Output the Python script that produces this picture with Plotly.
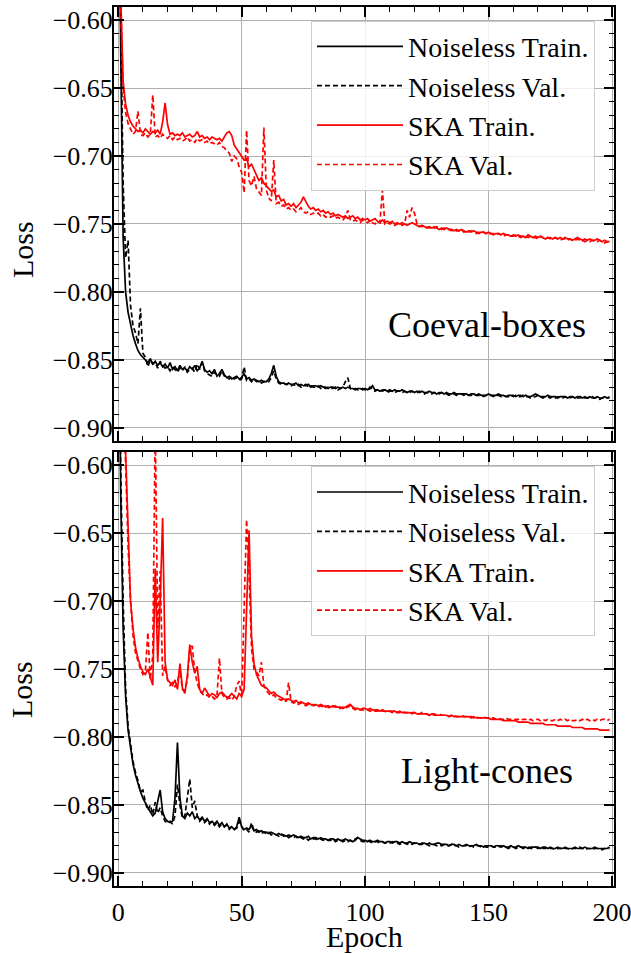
import plotly.graph_objects as go

epochs = list(range(200))

top_noiseless_train = [
    -0.40, -0.62, -0.76, -0.80, -0.815, -0.825, -0.832, -0.838, -0.843, -0.846,
    -0.848, -0.850, -0.852, -0.849, -0.853, -0.851, -0.854, -0.852, -0.855, -0.853,
    -0.856, -0.852, -0.857, -0.855, -0.858, -0.854, -0.857, -0.856, -0.858, -0.855,
    -0.857, -0.854, -0.858, -0.856, -0.851, -0.857, -0.859, -0.858, -0.860, -0.857,
    -0.862, -0.860, -0.857, -0.861, -0.863, -0.862, -0.864, -0.863, -0.862, -0.864,
    -0.863, -0.860, -0.864, -0.863, -0.865, -0.864, -0.865, -0.866, -0.865, -0.866,
    -0.866, -0.864, -0.860, -0.854, -0.862, -0.866, -0.867, -0.867, -0.868, -0.867,
    -0.868, -0.868, -0.867, -0.869, -0.868, -0.869, -0.869, -0.868, -0.870, -0.869,
    -0.869, -0.870, -0.869, -0.870, -0.870, -0.871, -0.870, -0.870, -0.871, -0.870,
    -0.871, -0.870, -0.871, -0.870, -0.871, -0.871, -0.872, -0.871, -0.871, -0.872,
    -0.871, -0.872, -0.871, -0.869, -0.872, -0.872, -0.873, -0.872, -0.872, -0.873,
    -0.872, -0.873, -0.872, -0.873, -0.873, -0.872, -0.873, -0.874, -0.873, -0.873,
    -0.874, -0.873, -0.874, -0.873, -0.874, -0.874, -0.873, -0.874, -0.874, -0.875,
    -0.874, -0.874, -0.875, -0.874, -0.875, -0.875, -0.874, -0.875, -0.875, -0.875,
    -0.875, -0.875, -0.876, -0.875, -0.875, -0.876, -0.875, -0.876, -0.876, -0.876,
    -0.875, -0.876, -0.876, -0.876, -0.875, -0.876, -0.876, -0.877, -0.876, -0.876,
    -0.876, -0.877, -0.876, -0.876, -0.877, -0.876, -0.877, -0.877, -0.876, -0.875,
    -0.876, -0.877, -0.877, -0.877, -0.876, -0.877, -0.877, -0.877, -0.878, -0.877,
    -0.877, -0.877, -0.878, -0.877, -0.877, -0.878, -0.877, -0.877, -0.878, -0.877,
    -0.878, -0.877, -0.878, -0.878, -0.877, -0.878, -0.878, -0.877, -0.878, -0.878,
]

top_noiseless_val = [
    -0.40, -0.60, -0.72, -0.775, -0.762, -0.810, -0.825, -0.830, -0.838, -0.812,
    -0.845, -0.848, -0.855, -0.850, -0.853, -0.852, -0.856, -0.851, -0.854, -0.856,
    -0.855, -0.858, -0.855, -0.857, -0.859, -0.856, -0.858, -0.855, -0.859, -0.857,
    -0.856, -0.859, -0.853, -0.857, -0.852, -0.858, -0.860, -0.861, -0.862, -0.859,
    -0.861, -0.862, -0.858, -0.862, -0.863, -0.864, -0.862, -0.864, -0.863, -0.865,
    -0.864, -0.855, -0.865, -0.864, -0.866, -0.864, -0.866, -0.865, -0.867, -0.866,
    -0.866, -0.866, -0.863, -0.858, -0.864, -0.867, -0.868, -0.867, -0.868, -0.868,
    -0.869, -0.868, -0.869, -0.868, -0.870, -0.869, -0.868, -0.870, -0.869, -0.870,
    -0.870, -0.869, -0.871, -0.870, -0.871, -0.870, -0.871, -0.871, -0.870, -0.872,
    -0.871, -0.870, -0.866, -0.863, -0.871, -0.872, -0.871, -0.872, -0.872, -0.871,
    -0.872, -0.872, -0.870, -0.872, -0.873, -0.872, -0.873, -0.873, -0.872, -0.874,
    -0.873, -0.873, -0.874, -0.873, -0.873, -0.874, -0.873, -0.874, -0.874, -0.873,
    -0.874, -0.874, -0.873, -0.874, -0.875, -0.874, -0.874, -0.875, -0.874, -0.875,
    -0.875, -0.874, -0.875, -0.875, -0.876, -0.875, -0.875, -0.876, -0.875, -0.875,
    -0.876, -0.875, -0.876, -0.876, -0.875, -0.876, -0.876, -0.876, -0.877, -0.876,
    -0.876, -0.876, -0.877, -0.876, -0.876, -0.877, -0.876, -0.877, -0.877, -0.876,
    -0.877, -0.876, -0.877, -0.877, -0.876, -0.877, -0.877, -0.878, -0.877, -0.877,
    -0.876, -0.877, -0.878, -0.877, -0.877, -0.878, -0.877, -0.878, -0.877, -0.878,
    -0.878, -0.877, -0.878, -0.878, -0.877, -0.878, -0.878, -0.878, -0.877, -0.878,
    -0.878, -0.878, -0.877, -0.878, -0.878, -0.879, -0.878, -0.878, -0.878, -0.877,
]

top_ska_train = [
    -0.45, -0.58, -0.645, -0.662, -0.670, -0.675, -0.678, -0.680, -0.682, -0.681,
    -0.683, -0.680, -0.682, -0.684, -0.682, -0.683, -0.681, -0.684, -0.675, -0.661,
    -0.677, -0.684, -0.683, -0.685, -0.684, -0.685, -0.683, -0.686, -0.685, -0.684,
    -0.686, -0.685, -0.682, -0.686, -0.685, -0.687, -0.686, -0.688, -0.686, -0.687,
    -0.688, -0.687, -0.689, -0.686, -0.683, -0.682, -0.685, -0.692, -0.695, -0.698,
    -0.700, -0.703, -0.702, -0.708, -0.706, -0.710, -0.714, -0.718, -0.716, -0.720,
    -0.722, -0.724, -0.726, -0.725, -0.730, -0.729, -0.733, -0.732, -0.736, -0.735,
    -0.737, -0.735, -0.738, -0.736, -0.734, -0.730, -0.734, -0.737, -0.739, -0.738,
    -0.740, -0.739, -0.741, -0.740, -0.742, -0.741, -0.743, -0.742, -0.744, -0.743,
    -0.744, -0.745, -0.744, -0.746, -0.745, -0.744, -0.746, -0.745, -0.747, -0.746,
    -0.747, -0.746, -0.748, -0.747, -0.746, -0.748, -0.749, -0.747, -0.749, -0.748,
    -0.749, -0.748, -0.750, -0.749, -0.750, -0.749, -0.750, -0.751, -0.750, -0.749,
    -0.750, -0.751, -0.752, -0.751, -0.752, -0.753, -0.752, -0.753, -0.752, -0.753,
    -0.754, -0.753, -0.754, -0.753, -0.754, -0.754, -0.755, -0.754, -0.755, -0.754,
    -0.755, -0.756, -0.755, -0.756, -0.755, -0.756, -0.757, -0.756, -0.756, -0.757,
    -0.756, -0.757, -0.758, -0.757, -0.757, -0.758, -0.757, -0.758, -0.758, -0.759,
    -0.758, -0.759, -0.758, -0.759, -0.759, -0.760, -0.758, -0.759, -0.760, -0.759,
    -0.760, -0.759, -0.760, -0.761, -0.760, -0.760, -0.761, -0.760, -0.761, -0.760,
    -0.761, -0.760, -0.761, -0.761, -0.762, -0.761, -0.760, -0.761, -0.762, -0.761,
    -0.762, -0.761, -0.762, -0.762, -0.761, -0.762, -0.763, -0.762, -0.763, -0.763,
]

top_ska_val = [
    -0.45, -0.59, -0.650, -0.668, -0.676, -0.680, -0.684, -0.682, -0.667, -0.684,
    -0.685, -0.683, -0.686, -0.684, -0.655, -0.686, -0.685, -0.687, -0.684, -0.686,
    -0.687, -0.685, -0.688, -0.686, -0.688, -0.687, -0.689, -0.688, -0.686, -0.689,
    -0.688, -0.690, -0.687, -0.689, -0.688, -0.690, -0.689, -0.691, -0.690, -0.691,
    -0.692, -0.690, -0.693, -0.694, -0.696, -0.698, -0.704, -0.700, -0.702, -0.708,
    -0.712, -0.727, -0.681, -0.718, -0.722, -0.715, -0.724, -0.727, -0.729, -0.679,
    -0.725, -0.731, -0.733, -0.703, -0.735, -0.734, -0.737, -0.736, -0.739, -0.738,
    -0.740, -0.739, -0.741, -0.740, -0.738, -0.741, -0.742, -0.741, -0.743, -0.742,
    -0.743, -0.742, -0.744, -0.743, -0.745, -0.744, -0.745, -0.744, -0.746, -0.745,
    -0.746, -0.747, -0.745, -0.740, -0.747, -0.748, -0.747, -0.748, -0.749, -0.747,
    -0.748, -0.749, -0.747, -0.749, -0.750, -0.748, -0.749, -0.725, -0.750, -0.749,
    -0.750, -0.749, -0.751, -0.750, -0.749, -0.751, -0.750, -0.740, -0.745, -0.738,
    -0.742, -0.750, -0.751, -0.752, -0.751, -0.752, -0.753, -0.752, -0.753, -0.752,
    -0.753, -0.754, -0.753, -0.754, -0.754, -0.755, -0.754, -0.755, -0.755, -0.754,
    -0.756, -0.755, -0.756, -0.755, -0.756, -0.757, -0.756, -0.757, -0.756, -0.757,
    -0.758, -0.757, -0.757, -0.758, -0.757, -0.758, -0.759, -0.758, -0.758, -0.759,
    -0.759, -0.758, -0.759, -0.760, -0.759, -0.759, -0.760, -0.759, -0.760, -0.760,
    -0.761, -0.759, -0.760, -0.761, -0.760, -0.761, -0.761, -0.760, -0.761, -0.762,
    -0.761, -0.761, -0.762, -0.761, -0.762, -0.762, -0.761, -0.762, -0.762, -0.763,
    -0.762, -0.763, -0.762, -0.763, -0.763, -0.762, -0.763, -0.764, -0.763, -0.764,
]

bottom_noiseless_train = [
    -0.40, -0.62, -0.72, -0.77, -0.795, -0.808, -0.820, -0.828, -0.835, -0.840,
    -0.845, -0.849, -0.852, -0.855, -0.858, -0.856, -0.848, -0.839, -0.855, -0.860,
    -0.862, -0.863, -0.862, -0.845, -0.804, -0.845, -0.858, -0.860, -0.856, -0.858,
    -0.855, -0.860, -0.858, -0.861, -0.859, -0.862, -0.860, -0.863, -0.862, -0.864,
    -0.862, -0.865, -0.863, -0.866, -0.864, -0.867, -0.866, -0.868, -0.866, -0.859,
    -0.866, -0.868, -0.867, -0.868, -0.865, -0.869, -0.868, -0.870, -0.869, -0.870,
    -0.870, -0.871, -0.870, -0.871, -0.872, -0.871, -0.872, -0.872, -0.873, -0.872,
    -0.873, -0.872, -0.873, -0.874, -0.873, -0.874, -0.874, -0.873, -0.875, -0.874,
    -0.874, -0.875, -0.874, -0.875, -0.875, -0.876, -0.875, -0.875, -0.876, -0.875,
    -0.876, -0.876, -0.875, -0.876, -0.876, -0.877, -0.876, -0.874, -0.875, -0.876,
    -0.876, -0.877, -0.876, -0.877, -0.877, -0.876, -0.877, -0.877, -0.878, -0.877,
    -0.877, -0.878, -0.877, -0.877, -0.878, -0.877, -0.878, -0.878, -0.877, -0.878,
    -0.878, -0.878, -0.879, -0.878, -0.878, -0.879, -0.878, -0.879, -0.879, -0.878,
    -0.878, -0.879, -0.879, -0.879, -0.880, -0.879, -0.879, -0.880, -0.879, -0.880,
    -0.880, -0.879, -0.880, -0.880, -0.880, -0.879, -0.880, -0.880, -0.881, -0.880,
    -0.880, -0.880, -0.881, -0.880, -0.880, -0.881, -0.880, -0.881, -0.881, -0.880,
    -0.881, -0.881, -0.880, -0.881, -0.881, -0.881, -0.882, -0.881, -0.881, -0.881,
    -0.881, -0.882, -0.881, -0.881, -0.882, -0.881, -0.882, -0.882, -0.881, -0.882,
    -0.882, -0.881, -0.882, -0.882, -0.882, -0.881, -0.882, -0.882, -0.882, -0.881,
    -0.882, -0.882, -0.882, -0.881, -0.882, -0.882, -0.882, -0.882, -0.882, -0.881,
]

bottom_noiseless_val = [
    -0.40, -0.60, -0.70, -0.765, -0.792, -0.806, -0.818, -0.826, -0.832, -0.840,
    -0.839, -0.848, -0.854, -0.850, -0.857, -0.848, -0.856, -0.852, -0.858, -0.862,
    -0.863, -0.862, -0.864, -0.858, -0.835, -0.850, -0.860, -0.858, -0.845, -0.831,
    -0.852, -0.847, -0.858, -0.862, -0.860, -0.863, -0.861, -0.864, -0.862, -0.865,
    -0.863, -0.866, -0.864, -0.866, -0.865, -0.868, -0.866, -0.868, -0.867, -0.862,
    -0.866, -0.869, -0.868, -0.870, -0.863, -0.869, -0.870, -0.869, -0.871, -0.870,
    -0.871, -0.870, -0.872, -0.871, -0.872, -0.873, -0.871, -0.873, -0.872, -0.874,
    -0.873, -0.874, -0.873, -0.875, -0.874, -0.875, -0.874, -0.876, -0.874, -0.875,
    -0.875, -0.876, -0.875, -0.876, -0.875, -0.876, -0.876, -0.875, -0.877, -0.876,
    -0.876, -0.877, -0.876, -0.877, -0.876, -0.877, -0.875, -0.874, -0.876, -0.877,
    -0.877, -0.876, -0.877, -0.878, -0.877, -0.877, -0.878, -0.877, -0.878, -0.878,
    -0.878, -0.877, -0.878, -0.878, -0.879, -0.878, -0.878, -0.879, -0.878, -0.879,
    -0.878, -0.879, -0.879, -0.879, -0.878, -0.879, -0.880, -0.879, -0.879, -0.880,
    -0.879, -0.880, -0.879, -0.880, -0.880, -0.879, -0.880, -0.880, -0.881, -0.880,
    -0.880, -0.880, -0.881, -0.880, -0.881, -0.880, -0.880, -0.881, -0.880, -0.881,
    -0.881, -0.880, -0.881, -0.881, -0.881, -0.880, -0.881, -0.881, -0.882, -0.881,
    -0.881, -0.882, -0.881, -0.881, -0.882, -0.881, -0.881, -0.882, -0.882, -0.881,
    -0.882, -0.881, -0.882, -0.882, -0.881, -0.882, -0.882, -0.883, -0.882, -0.882,
    -0.881, -0.882, -0.882, -0.883, -0.882, -0.882, -0.882, -0.881, -0.882, -0.883,
    -0.882, -0.882, -0.883, -0.882, -0.882, -0.882, -0.883, -0.882, -0.882, -0.882,
]

bottom_ska_train = [
    -0.40, -0.50, -0.56, -0.59, -0.64, -0.70, -0.72, -0.734, -0.742, -0.748,
    -0.752, -0.754, -0.750, -0.756, -0.762, -0.676, -0.745, -0.700, -0.639, -0.745,
    -0.758, -0.760, -0.762, -0.758, -0.765, -0.746, -0.764, -0.768, -0.755, -0.732,
    -0.745, -0.753, -0.748, -0.765, -0.768, -0.764, -0.767, -0.770, -0.768, -0.769,
    -0.771, -0.768, -0.767, -0.769, -0.771, -0.770, -0.768, -0.770, -0.772, -0.768,
    -0.770, -0.765, -0.700, -0.648, -0.726, -0.746, -0.754, -0.758, -0.762, -0.763,
    -0.764, -0.766, -0.768, -0.767, -0.769, -0.770, -0.771, -0.772, -0.773, -0.772,
    -0.773, -0.774, -0.773, -0.775, -0.774, -0.775, -0.776, -0.775, -0.776, -0.777,
    -0.776, -0.777, -0.776, -0.777, -0.778, -0.777, -0.778, -0.777, -0.778, -0.778,
    -0.778, -0.779, -0.778, -0.777, -0.776, -0.778, -0.779, -0.779, -0.780, -0.779,
    -0.779, -0.780, -0.779, -0.780, -0.780, -0.780, -0.781, -0.780, -0.781, -0.781,
    -0.781, -0.781, -0.781, -0.782, -0.781, -0.782, -0.782, -0.782, -0.782, -0.783,
    -0.782, -0.783, -0.783, -0.783, -0.783, -0.783, -0.784, -0.783, -0.784, -0.784,
    -0.784, -0.784, -0.784, -0.784, -0.785, -0.784, -0.785, -0.785, -0.785, -0.785,
    -0.785, -0.785, -0.785, -0.786, -0.785, -0.786, -0.786, -0.786, -0.786, -0.786,
    -0.786, -0.787, -0.787, -0.787, -0.787, -0.787, -0.788, -0.788, -0.788, -0.788,
    -0.788, -0.788, -0.789, -0.789, -0.789, -0.789, -0.789, -0.790, -0.790, -0.790,
    -0.790, -0.790, -0.790, -0.791, -0.791, -0.791, -0.791, -0.791, -0.792, -0.792,
    -0.792, -0.792, -0.792, -0.792, -0.793, -0.793, -0.793, -0.793, -0.793, -0.794,
    -0.794, -0.794, -0.794, -0.794, -0.794, -0.795, -0.795, -0.795, -0.795, -0.795,
]

bottom_ska_val = [
    -0.40, -0.48, -0.54, -0.60, -0.66, -0.70, -0.725, -0.738, -0.745, -0.750,
    -0.754, -0.752, -0.723, -0.758, -0.740, -0.570, -0.720, -0.678, -0.755, -0.748,
    -0.758, -0.762, -0.760, -0.763, -0.760, -0.750, -0.765, -0.766, -0.758, -0.735,
    -0.733, -0.752, -0.760, -0.766, -0.768, -0.770, -0.769, -0.771, -0.770, -0.772,
    -0.770, -0.742, -0.768, -0.771, -0.772, -0.771, -0.773, -0.770, -0.762, -0.759,
    -0.771, -0.700, -0.640, -0.680, -0.735, -0.750, -0.752, -0.755, -0.745, -0.762,
    -0.766, -0.768, -0.770, -0.769, -0.771, -0.772, -0.773, -0.772, -0.774, -0.760,
    -0.774, -0.775, -0.774, -0.776, -0.775, -0.776, -0.777, -0.776, -0.777, -0.776,
    -0.777, -0.778, -0.777, -0.778, -0.777, -0.778, -0.779, -0.778, -0.777, -0.779,
    -0.779, -0.778, -0.779, -0.778, -0.777, -0.779, -0.780, -0.779, -0.780, -0.780,
    -0.780, -0.780, -0.781, -0.780, -0.781, -0.781, -0.780, -0.781, -0.781, -0.782,
    -0.781, -0.782, -0.781, -0.782, -0.782, -0.781, -0.782, -0.782, -0.783, -0.782,
    -0.782, -0.783, -0.783, -0.782, -0.783, -0.783, -0.784, -0.783, -0.783, -0.784,
    -0.783, -0.784, -0.784, -0.784, -0.785, -0.784, -0.784, -0.785, -0.785, -0.784,
    -0.785, -0.785, -0.785, -0.785, -0.786, -0.785, -0.786, -0.786, -0.785, -0.786,
    -0.786, -0.786, -0.786, -0.787, -0.786, -0.787, -0.787, -0.786, -0.787, -0.787,
    -0.787, -0.787, -0.787, -0.788, -0.787, -0.787, -0.788, -0.787, -0.788, -0.787,
    -0.787, -0.788, -0.787, -0.788, -0.787, -0.788, -0.788, -0.787, -0.788, -0.787,
    -0.788, -0.787, -0.788, -0.787, -0.788, -0.788, -0.787, -0.788, -0.787, -0.788,
    -0.787, -0.788, -0.787, -0.788, -0.787, -0.788, -0.787, -0.787, -0.788, -0.787,
]

series_names = ["Noiseless Train.", "Noiseless Val.", "SKA Train.", "SKA Val."]
series_colors = ["black", "black", "red", "red"]
series_dashes = ["solid", "5px,3px", "solid", "5px,3px"]
panel_labels = ["Coeval-boxes", "Light-cones"]
x_title = "Epoch"
y_title = "Loss"

FONT = "Liberation Serif, Times New Roman, serif"

fig = go.Figure()

panels = [
    ("x", "y", "legend", [top_noiseless_train, top_noiseless_val, top_ska_train, top_ska_val]),
    ("x2", "y2", "legend2", [bottom_noiseless_train, bottom_noiseless_val, bottom_ska_train, bottom_ska_val]),
]
for xa, ya, lg, data in panels:
    for name, color, dash, vals in zip(series_names, series_colors, series_dashes, data):
        fig.add_trace(go.Scatter(
            x=epochs, y=vals, mode="lines", name=name,
            line=dict(color=color, width=1.7, dash=dash),
            xaxis=xa, yaxis=ya, legend=lg,
        ))

ax_common = dict(
    showline=True, linecolor="black", linewidth=2, mirror="ticks",
    ticks="inside", ticklen=10, tickwidth=1.5, tickcolor="black",
    showgrid=True, gridcolor="#b0b0b0", gridwidth=1, zeroline=False,
    tickfont=dict(family=FONT, size=26, color="black"),
    ticklabeloverflow="allow", automargin=False,
)

xrange = [-1.7, 200.8]
yrange = [-0.9096, -0.5904]

xminor = dict(ticks="inside", ticklen=5, tickwidth=1.2, tickcolor="black", dtick=10, showgrid=False)
yminor = dict(ticks="inside", ticklen=5, tickwidth=1.2, tickcolor="black", dtick=0.01, showgrid=False)

legend_common = dict(
    font=dict(family=FONT, size=28, color="black"),
    bgcolor="rgba(255,255,255,0.8)", bordercolor="#cccccc", borderwidth=1,
    xanchor="right", yanchor="top", x=0.962, itemwidth=86,
)

fig.update_layout(
    width=631, height=954,
    margin=dict(l=114, r=17, t=7, b=68, autoexpand=False),
    paper_bgcolor="white", plot_bgcolor="white",
    font=dict(family=FONT, color="black"),
    xaxis=dict(domain=[0, 1], anchor="y", range=xrange, tick0=0, dtick=50,
               showticklabels=False, minor=xminor, **ax_common),
    xaxis2=dict(domain=[0, 1], anchor="y2", range=xrange, tick0=0, dtick=50, matches="x",
                showticklabels=True, minor=xminor, ticklabelstandoff=2, **ax_common),
    yaxis=dict(domain=[0.5063, 1], anchor="x", range=yrange, tick0=-0.9, dtick=0.05,
               tickformat=".2f", minor=yminor, ticklabelstandoff=-6, **ax_common),
    yaxis2=dict(domain=[0, 0.4937], anchor="x2", range=yrange, tick0=-0.9, dtick=0.05,
                tickformat=".2f", minor=yminor, ticklabelstandoff=-6, **ax_common),
    legend=dict(y=0.9845, **legend_common),
    legend2=dict(y=0.4775, **legend_common),
    showlegend=True,
)

title_font = dict(family=FONT, size=30, color="black")
fig.add_annotation(text=y_title, x=-0.184, y=0.7235, xref="paper", yref="paper",
                   textangle=-90, showarrow=False, font=title_font,
                   xanchor="center", yanchor="middle")
fig.add_annotation(text=y_title, x=-0.184, y=0.223, xref="paper", yref="paper",
                   textangle=-90, showarrow=False, font=title_font,
                   xanchor="center", yanchor="middle")
fig.add_annotation(text=x_title, x=0.5, y=-0.0575, xref="paper", yref="paper",
                   showarrow=False, font=title_font, xanchor="center", yanchor="middle")

fig.add_annotation(text=panel_labels[0], x=149.5, y=-0.8245, xref="x", yref="y",
                   showarrow=False, font=dict(family=FONT, size=36, color="black"))
fig.add_annotation(text=panel_labels[1], x=149.5, y=-0.825, xref="x2", yref="y2",
                   showarrow=False, font=dict(family=FONT, size=36, color="black"))

fig.write_html("out.html", config={"displayModeBar": False},
               post_script="document.body.style.margin='0px';")
